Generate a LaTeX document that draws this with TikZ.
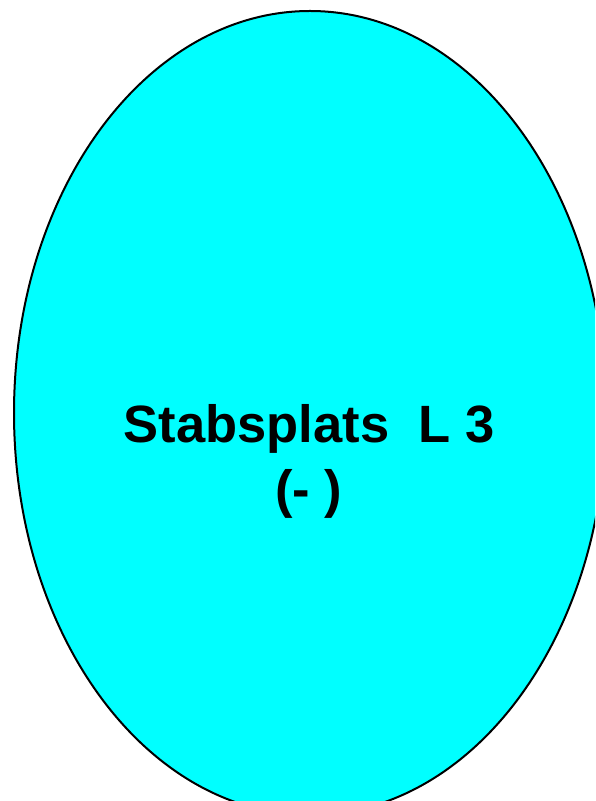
\documentclass[tikz,border=0pt]{standalone}
\usepackage{fontspec}
\setmainfont{Liberation Sans}
\usetikzlibrary{shapes.geometric}
\begin{document}
\begin{tikzpicture}[x=1pt,y=1pt,
  blob/.style={ellipse,draw=black,line width=2pt,fill={rgb,255:red,0;green,255;blue,255},
    minimum width=592pt,minimum height=804pt,inner sep=0pt},
  lbl/.style={font=\bfseries\fontsize{52.5}{63}\selectfont,anchor=base,inner sep=0pt}]
\useasboundingbox (0,0) rectangle (595,801);
\clip (0,0) rectangle (595,801);
\node[blob] (e) at (310,388) {};
\node[lbl] (title) at (309,358) {Stabsplats\ \ L 3};
\node[lbl] (sub) at (309,293.5) {(- )};
\end{tikzpicture}
\end{document}
